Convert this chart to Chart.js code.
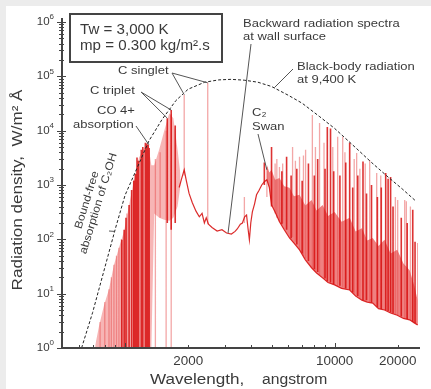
<!DOCTYPE html>
<html>
<head>
<meta charset="utf-8">
<script src="https://cdn.jsdelivr.net/npm/chart.js@4.4.1/dist/chart.umd.min.js"></script>
<style>
  html, body { margin: 0; padding: 0; background: #ececec; }
  #paper { position: absolute; left: 6px; top: 6px; width: 425px; height: 383px; background: #fff; }
  #chart { position: absolute; left: 0; top: 0; }
</style>
</head>
<body>
<div id="paper"></div>
<canvas id="chart" width="431" height="389"></canvas>
<script>
// black-body radiation at 9,400 K (dashed curve), W/m2 A vs angstrom
const bbWave  = [620, 700, 800, 900, 1000, 1150, 1300, 1500, 1750, 2000, 2400, 2800, 3200, 3700, 4300, 5000, 6000, 7000, 8500, 10000, 12500, 15000, 18000, 21000, 24500];
const bbValue = [1.0, 4.5, 30, 160, 650, 2200, 6500, 16000, 36000, 58000, 78000, 86000, 88000, 85000, 78000, 65000, 45000, 32000, 18000, 11000, 5000, 2600, 1400, 850, 500];

// lower continuum of the backward radiation spectrum
const contWave  = [1812, 1860, 1915, 1960, 2020, 2094, 2180, 2261, 2330, 2390, 2440, 2500, 2600, 2750, 2900, 3050, 3216, 3350, 3430, 3550, 3630, 3720, 3800, 3860, 3920, 3980, 4050, 4150, 4240, 4360, 4490, 4620, 4750, 4880, 5000, 5200, 5455, 5750, 6090, 6400, 6800, 7250, 7760, 8200, 8760, 9300, 10000, 10800, 11800, 12600, 13500, 14300, 15200, 16200, 17300, 18500, 19900, 21300, 22800, 24000, 24900];
const contValue = [900, 1300, 1900, 1200, 700, 470, 330, 260, 300, 200, 250, 190, 165, 142, 150, 131, 125, 140, 155, 190, 200, 260, 280, 160, 98, 200, 320, 450, 660, 800, 1000, 1150, 1250, 900, 430, 320, 210, 150, 106, 85, 64, 42, 30, 24, 19.5, 16, 14.5, 12.5, 11.7, 9.0, 7.6, 7.0, 6.7, 5.3, 5.0, 4.4, 4.0, 3.5, 3.3, 2.9, 2.65];

// dense line forest, short wavelengths (CO 4+ / C triplet)
const bandAWave = [720, 752, 794, 838, 885, 935, 988, 1045, 1104, 1166, 1233, 1290, 1335, 1377, 1455, 1538, 1625, 1700, 1780, 1840];
const bandAHigh = [1.1, 2.6, 6.2, 12, 34, 70, 140, 430, 1250, 3200, 4800, 5500, 2300, 2300, 4500, 10000, 21000, 17000, 4500, 1500];
const bandALow  = [1, 1, 1, 1, 1, 1, 1, 1, 1, 1, 1, 1, 1, 300, 250, 230, 220, 250, 400, 1000];

// dense line forest, long wavelengths (C2 Swan and beyond)
const bandBWave = [4750, 4880, 5000, 5200, 5455, 5750, 6090, 6400, 6800, 7250, 7760, 8200, 8760, 9300, 10000, 10800, 11800, 12600, 13500, 14300, 15200, 16200, 17300, 18500, 19900, 21300, 22800, 24000, 24900];
const bandBHigh = [2350, 1700, 1900, 1250, 1350, 950, 890, 620, 660, 420, 530, 340, 430, 270, 320, 210, 250, 140, 160, 95, 106, 75, 98, 55, 64, 36, 27, 14, 7.6];
const bandBLow  = [1250, 900, 430, 320, 210, 150, 106, 85, 64, 42, 30, 24, 19.5, 16, 14.5, 12.5, 11.7, 9.0, 7.6, 7.0, 6.7, 5.3, 5.0, 4.4, 4.0, 3.5, 3.3, 2.9, 2.65];

// strong emission lines
const darkWave = [965, 990, 1010, 1045, 1075, 1100, 1120, 1140, 1160, 1195, 1215, 1250, 1270, 1290, 1303, 1590, 1660, 1735,
                  4620, 5000, 5600, 5900, 6200, 6600, 7000, 7500, 8000, 8300, 9000, 9230, 9560, 9900, 10600, 11300, 11800, 12200, 12900, 13660, 14200, 15000, 16000, 16700, 17530, 18000, 18500, 19000, 20800, 22200, 23600, 24200];
const darkTop  = [98, 150, 250, 430, 810, 1200, 1600, 3200, 2800, 4470, 5000, 6000, 5800, 5500, 4800, 17000, 24000, 12500,
                  2600, 5000, 1800, 3300, 1500, 2000, 1200, 2500, 1500, 3000, 2000, 11700, 11000, 1800, 1500, 2600, 6000, 900, 1500, 2700, 700, 1000, 600, 900, 1660, 1300, 1400, 400, 250, 200, 350, 90];
const darkBase = [1, 1, 1, 1, 1, 1, 1, 1, 1, 1, 1, 1, 1, 1, 1, 200, 150, 200,
                  1000, 400, 190, 150, 105, 80, 55, 40, 28, 25, 19, 17, 16, 15, 14, 12.5, 11.7, 10.5, 9, 7.6, 7.6, 6.8, 5.6, 5.2, 5, 4.8, 4.5, 4.3, 3.8, 3.4, 3, 2.9];

// weaker emission lines
const paleWave = [760, 800, 838, 860, 885, 910, 935, 960, 1020, 1104, 1395, 1470, 1570, 1660, 1915, 2480, 3710,
                  4750, 5200, 5300, 5455, 5650, 6300, 6500, 6800, 7100, 7270, 7830, 8100, 8475, 8900, 9800, 10340, 10930, 11200, 12400, 12740, 13200, 14000, 14700, 15880, 16600, 19500, 20000, 21600, 22000, 23000, 24900];
const paleTop  = [3, 7, 12, 20, 34, 50, 70, 100, 300, 1250, 3000, 4000, 10000, 20000, 46000, 76000, 600,
                  2150, 2500, 3000, 2150, 2500, 5000, 2800, 3300, 3500, 4450, 19500, 5000, 13900, 6000, 5000, 7700, 7700, 4000, 3000, 3900, 2000, 2500, 2900, 1660, 1500, 600, 530, 530, 500, 400, 86];
const paleBase = [1, 1, 1, 1, 1, 1, 1, 1, 1, 1, 1, 250, 1, 1, 1500, 190, 200,
                  600, 300, 250, 210, 200, 110, 90, 64, 50, 45, 30, 27, 22, 19, 15, 14, 13, 12.5, 10, 9, 8, 7.5, 7, 6, 5.2, 4.1, 4, 3.6, 3.4, 3.2, 2.65];

const xTickLabels = [2000, 10000, 20000];
const yTickPowers = [0, 1, 2, 3, 4, 5, 6];

function points(wave, value) {
  return wave.map((w, i) => ({ x: w, y: value[i] }));
}

// each line is a vertical stem, separated by a gap
function stems(wave, top, base) {
  const pts = [];
  wave.forEach((w, i) => {
    pts.push({ x: w, y: base[i] }, { x: w, y: top[i] }, { x: w, y: null });
  });
  return pts;
}

const TEXT = '#3a3a3a';

// the scanned figure uses a wide face, so text is stretched a little
function text(ctx, s, x, y, size, sx, align) {
  ctx.save();
  ctx.font = size + 'px "Liberation Sans"';
  ctx.translate(x, y);
  ctx.scale(sx, 1);
  ctx.textAlign = align || 'left';
  ctx.fillText(s, 0, 0);
  ctx.restore();
}

const frame = {
  id: 'frame',
  afterDraw(chart) {
    const ctx = chart.ctx;
    const xs = chart.scales.x, ys = chart.scales.y;
    const a = chart.chartArea;
    const P = (w, v) => [xs.getPixelForValue(w), ys.getPixelForValue(v)];
    const isStep = v => {
      const m = v / Math.pow(10, Math.floor(Math.log10(v) + 1e-9));
      return Math.abs(m - Math.round(m)) < 1e-6;
    };
    const isPow = v => Math.abs(Math.log10(v) - Math.round(Math.log10(v))) < 1e-9;

    ctx.save();
    // axes
    ctx.strokeStyle = '#444';
    ctx.lineWidth = 2;
    ctx.beginPath();
    ctx.moveTo(a.left, a.top - 4);
    ctx.lineTo(a.left, a.bottom);
    ctx.lineTo(a.right + 2, a.bottom);
    ctx.stroke();

    ctx.lineWidth = 1;
    ys.ticks.forEach(t => {
      if (!isStep(t.value)) return;
      const y = Math.round(ys.getPixelForValue(t.value)) + 0.5;
      const big = isPow(t.value);
      ctx.beginPath();
      ctx.moveTo(a.left - (big ? 5 : 3), y);
      ctx.lineTo(a.left + (big ? 4 : 2), y);
      ctx.stroke();
    });
    xs.ticks.forEach(t => {
      if (!isStep(t.value)) return;
      const x = Math.round(xs.getPixelForValue(t.value)) + 0.5;
      const big = isPow(t.value);
      ctx.beginPath();
      ctx.moveTo(x, a.bottom + 1);
      ctx.lineTo(x, a.bottom - (big ? 5 : 3));
      ctx.stroke();
    });

    // tick labels
    ctx.fillStyle = TEXT;
    ctx.textBaseline = 'middle';
    yTickPowers.forEach(p => {
      const y = ys.getPixelForValue(Math.pow(10, p));
      ctx.font = '8px "Liberation Sans"';
      const sup = String(p);
      const sw = ctx.measureText(sup).width;
      ctx.textAlign = 'left';
      ctx.fillText(sup, a.left - 8 - sw, y - 5);
      text(ctx, '10', a.left - 8 - sw, y, 11, 1.05, 'right');
    });
    xTickLabels.forEach(v => {
      text(ctx, String(v), xs.getPixelForValue(v), a.bottom + 14, 12, 1.12, 'center');
    });

    // axis titles
    text(ctx, 'Wavelength,', 150, 380, 14, 1.22);
    text(ctx, 'angstrom', 262, 380, 14, 1.12);
    ctx.save();
    ctx.translate(18, 190);
    ctx.rotate(-Math.PI / 2);
    text(ctx, 'Radiation density,  W/m\u00B2 \u00C5', 0, 0, 14, 1.22, 'center');
    ctx.restore();

    // condition box
    ctx.lineWidth = 2;
    ctx.strokeStyle = '#444';
    ctx.strokeRect(70, 14, 152, 48);
    text(ctx, 'Tw = 3,000 K', 80, 30, 14, 1.08);
    text(ctx, 'mp = 0.300 kg/m\u00B2.s', 80, 46, 14, 1.08);

    // labels with leader lines
    const L = (s, x, y) => text(ctx, s, x, y, 11.5, 1.13);
    L('Backward radiation spectra', 243, 24);
    L('at wall surface', 243, 37);
    L('Black-body radiation', 297, 67);
    L('at 9,400 K', 297, 80);
    L('C singlet', 118, 71);
    L('C triplet', 90, 91);
    L('CO 4+', 97, 111);
    L('absorption', 73, 125);
    L('C\u2082', 252, 113);
    L('Swan', 252, 127);

    ctx.save();
    ctx.translate(87, 200);
    ctx.rotate(-73 * Math.PI / 180);
    text(ctx, 'Bound-free', 0, 0, 11, 1.1, 'center');
    text(ctx, 'absorption of C\u2082OH', 0, 12, 11, 1.1, 'center');
    ctx.restore();

    ctx.lineWidth = 1;
    ctx.strokeStyle = '#555';
    const leader = (x0, y0, end) => {
      ctx.beginPath();
      ctx.moveTo(x0, y0);
      ctx.lineTo(end[0], end[1]);
      ctx.stroke();
    };
    leader(172, 73, P(1915, 46000));
    leader(172, 73, P(2480, 76000));
    leader(141, 92, P(1590, 17000));
    leader(141, 92, P(1660, 24000));
    leader(136, 126, P(1300, 5500));
    leader(251, 44, P(3100, 130));
    leader(293, 69, P(5160, 62000));
    leader(258, 134, P(4750, 1900));
    leader(109, 231, P(890, 140));
    ctx.restore();
  }
};

new Chart(document.getElementById('chart'), {
  type: 'line',
  data: {
    datasets: [
      {
        data: points(bbWave, bbValue),
        borderColor: '#222', borderWidth: 1, borderDash: [3, 2],
        pointRadius: 0, fill: false, order: 0
      },
      {
        data: points(contWave, contValue),
        borderColor: 'rgba(215,20,20,0.9)', borderWidth: 1.2,
        pointRadius: 0, fill: false, order: 1
      },
      {
        data: stems(darkWave, darkTop, darkBase),
        borderColor: 'rgba(215,15,15,0.85)', borderWidth: 1.6,
        pointRadius: 0, fill: false, order: 2
      },
      {
        data: stems(paleWave, paleTop, paleBase),
        borderColor: 'rgba(232,80,80,0.5)', borderWidth: 1.3,
        pointRadius: 0, fill: false, order: 3
      },
      {
        data: points(bandAWave, bandALow),
        borderColor: 'transparent', borderWidth: 0,
        pointRadius: 0, fill: false, order: 4
      },
      {
        data: points(bandAWave, bandAHigh),
        borderColor: 'transparent', borderWidth: 0,
        backgroundColor: 'rgba(238,90,90,0.45)',
        pointRadius: 0, fill: '-1', order: 4
      },
      {
        data: points(bandBWave, bandBLow),
        borderColor: 'transparent', borderWidth: 0,
        pointRadius: 0, fill: false, order: 4
      },
      {
        data: points(bandBWave, bandBHigh),
        borderColor: 'transparent', borderWidth: 0,
        backgroundColor: 'rgba(228,45,45,0.6)',
        pointRadius: 0, fill: '-1', order: 4
      }
    ]
  },
  options: {
    responsive: false,
    animation: false,
    events: [],
    layout: { padding: { left: 62, right: 13, top: 22, bottom: 41 } },
    plugins: { legend: { display: false }, tooltip: { enabled: false } },
    scales: {
      x: {
        type: 'logarithmic', min: 500, max: 25000,
        ticks: { display: false }, grid: { display: false }, border: { display: false },
        afterFit: s => { s.height = 0; }
      },
      y: {
        type: 'logarithmic', min: 1, max: 1e6,
        ticks: { display: false }, grid: { display: false }, border: { display: false },
        afterFit: s => { s.width = 0; }
      }
    }
  },
  plugins: [frame]
});
</script>
</body>
</html>
